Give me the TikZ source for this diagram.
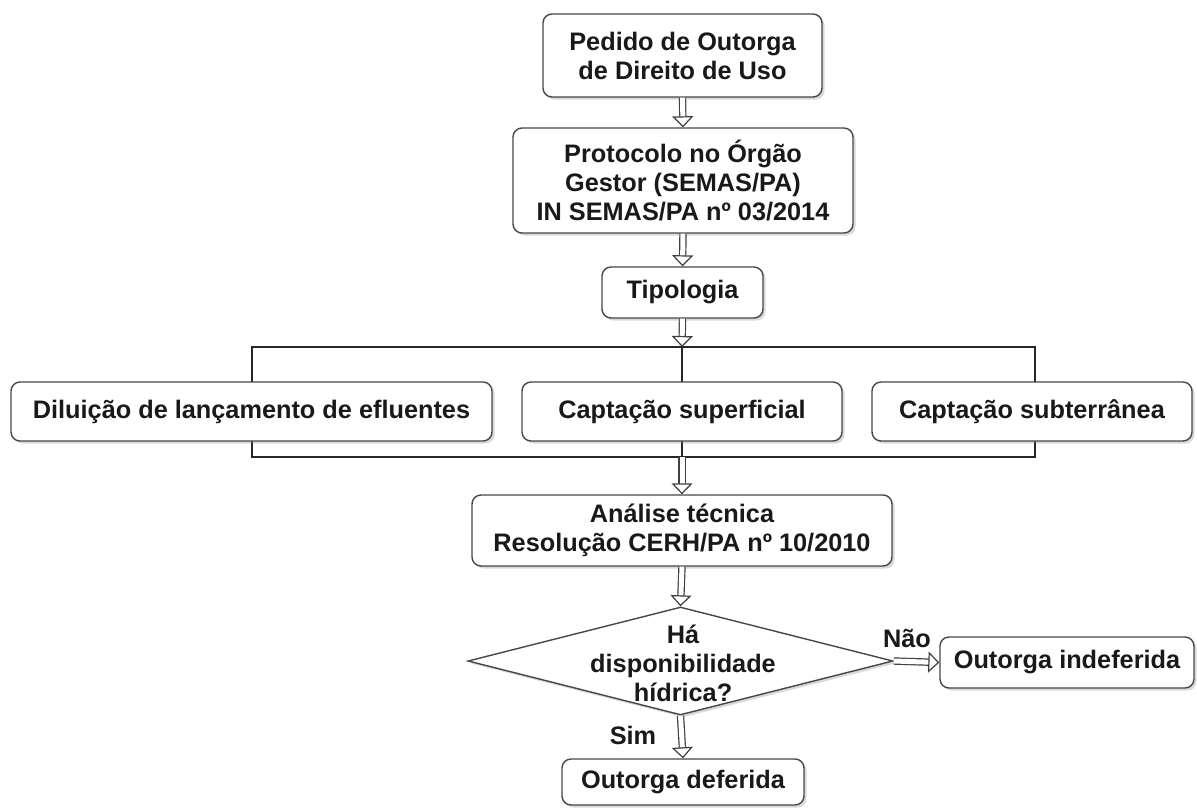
\documentclass[tikz,border=0pt]{standalone}
\usepackage{fontspec}
\setmainfont{Liberation Sans}
\usetikzlibrary{shapes.geometric,arrows.meta,shadows}
\begin{document}
\begin{tikzpicture}[x=1pt,y=-1pt,
  txt/.style={font=\fontsize{25.3}{29}\selectfont\bfseries, text=black!90, align=center},
  box/.style={txt, draw=black!72, line width=1.4pt, rounded corners=9pt, fill=white,
    drop shadow={shadow xshift=2.5pt, shadow yshift=-2.5pt, opacity=0.3},
    inner sep=0pt, minimum width=#1},
  dbl/.style={draw=black!75, line width=1.2pt, double=white, double distance=5pt,
    -{Triangle[open, fill=white, length=11pt, width=21pt, line width=1.2pt]}},
  brk/.style={draw=black!85, line width=2pt},
  lbl/.style={font=\fontsize{25.3}{29}\selectfont\bfseries, text=black!90, inner sep=0pt}
]
\useasboundingbox (0,0) rectangle (1197,809);
% bracket
\coordinate (btop) at (682,347);
\coordinate (bbot) at (682,457);
\draw[brk] (252,457) -- (252,347) -- (1035,347) -- (1035,457) -- cycle;
\draw[brk] (btop) -- (bbot);
% boxes
\node[box=279pt, minimum height=83pt] (n1) at (682.5,55.5) {Pedido de Outorga\\de Direito de Uso};
\node[box=340pt, minimum height=105pt] (n2) at (683,180.5) {Protocolo no Órgão\\Gestor (SEMAS/PA)\\IN SEMAS/PA nº 03/2014};
\node[box=161pt, minimum height=51pt] (n3) at (682.5,292.5) {Tipologia};
\node[box=481pt, minimum height=59pt] (t1) at (251.5,411.5) {Diluição de lançamento de efluentes};
\node[box=320pt, minimum height=59pt] (t2) at (682,411.5) {Captação superficial};
\node[box=320pt, minimum height=59pt] (t3) at (1032,411.5) {Captação subterrânea};
\node[box=420pt, minimum height=71pt] (n5) at (682,530.5) {Análise técnica\\Resolução CERH/PA nº 10/2010};
\node[diamond, draw=black!72, line width=1.4pt, fill=white, inner sep=0pt,
  minimum width=425pt, minimum height=108pt,
  drop shadow={shadow xshift=2.5pt, shadow yshift=-2.5pt, opacity=0.3}] (d) at (680.5,661) {};
\node[txt, inner sep=0pt] (dt) at (683,663) {Há\\disponibilidade\\hídrica?};
\node[box=242pt, minimum height=46pt] (n7) at (683,782) {Outorga deferida};
\node[box=254pt, minimum height=51pt] (n8) at (1067,662.5) {Outorga indeferida};
% connectors
\draw[dbl] (n1.south) -- (n2.north);
\draw[dbl] (n2.south) -- (n3.north);
\draw[dbl] (n3.south) -- (btop);
\draw[dbl] (bbot) -- (n5.north);
\draw[dbl] (n5.south) -- (d.north);
\draw[dbl] (d.south) -- (n7.north);
\draw[dbl] (d.east) -- (n8.west);
% labels
\node[lbl] (nao) at (907,638) {Não};
\node[lbl] (sim) at (633,735) {Sim};
\end{tikzpicture}
\end{document}
